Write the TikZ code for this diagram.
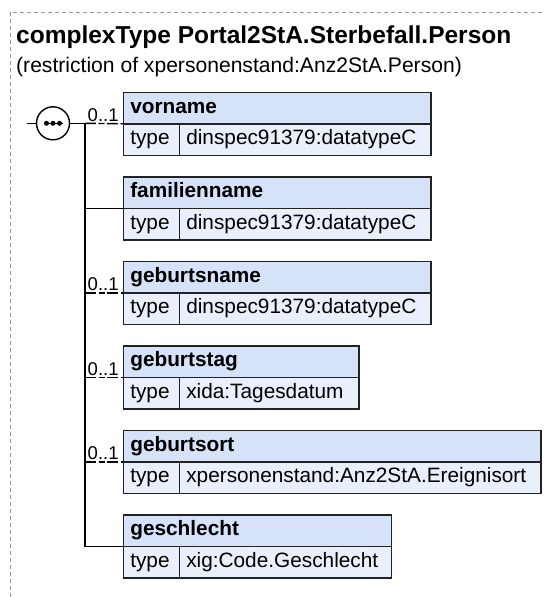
\documentclass[tikz,border=0pt]{standalone}
\usepackage{fontspec}
\setmainfont{Liberation Sans}
\usepackage{tikz}
\usetikzlibrary{positioning}
\definecolor{hdrblue}{RGB}{214,226,247}
\definecolor{rowblue}{RGB}{234,240,251}
\definecolor{boxline}{RGB}{34,34,34}
\definecolor{framegray}{RGB}{150,150,150}

\begin{document}
\begin{tikzpicture}[
  x=1pt, y=-1pt,
  node distance=21.5pt,
  cell/.style={rectangle, draw=boxline, line width=1.4pt, inner xsep=7pt, inner ysep=0pt,
               outer sep=0pt, minimum height=31.5pt, text height=15pt, text depth=4.5pt,
               align=left, anchor=north west, font=\fontsize{20.8}{24}\selectfont},
  hdr/.style={cell, fill=hdrblue, font=\fontsize{20.8}{24}\selectfont\bfseries},
  tcell/.style={cell, fill=rowblue, text width=42pt},
  vcell/.style={cell, fill=rowblue, anchor=west},
  occ/.style={inner sep=0pt, font=\fontsize{18.5}{20}\selectfont},
  conn/.style={line width=1.4pt, black},
  optconn/.style={conn, dash pattern=on 11pt off 2.5pt on 6pt off 2.5pt on 11pt off 2.5pt},
  seqc/.style={circle, draw, line width=1.4pt, fill=white, minimum size=33pt, inner sep=0pt},
  frameline/.style={framegray, line width=1pt, dash pattern=on 4pt off 3pt},
]
\path[use as bounding box, fill=white] (0,0) rectangle (545,597);

%% dashed frame of the complex type
\draw[frameline] (10,597) -- (10,12.3) -- (545,12.3);

\node[anchor=base west, inner sep=0pt, font=\fontsize{24.5}{28}\selectfont\bfseries]
      (title) at (16,43.3) {complexType Portal2StA.Sterbefall.Person};
\node[anchor=base west, inner sep=0pt, font=\fontsize{21.1}{24}\selectfont]
      (restr) at (16,72.7) {(restriction of xpersonenstand:Anz2StA.Person)};

%% ---- elements ----
\node[hdr, text width=293.7pt] (vorname) at (123.3,92.3) {vorname};
\node[tcell] (vorname-t) at (vorname.south west) {type};
\node[vcell, text width=237.7pt] (vorname-v) at (vorname-t.east) {dinspec91379:datatypeC};

\node[hdr, text width=293.7pt, below=of vorname-t.south west, anchor=north west] (familienname) {familienname};
\node[tcell] (familienname-t) at (familienname.south west) {type};
\node[vcell, text width=237.7pt] (familienname-v) at (familienname-t.east) {dinspec91379:datatypeC};

\node[hdr, text width=293.7pt, below=of familienname-t.south west, anchor=north west] (geburtsname) {geburtsname};
\node[tcell] (geburtsname-t) at (geburtsname.south west) {type};
\node[vcell, text width=237.7pt] (geburtsname-v) at (geburtsname-t.east) {dinspec91379:datatypeC};

\node[hdr, text width=221.7pt, below=of geburtsname-t.south west, anchor=north west] (geburtstag) {geburtstag};
\node[tcell] (geburtstag-t) at (geburtstag.south west) {type};
\node[vcell, text width=165.7pt] (geburtstag-v) at (geburtstag-t.east) {xida:Tagesdatum};

\node[hdr, text width=403.7pt, below=of geburtstag-t.south west, anchor=north west] (geburtsort) {geburtsort};
\node[tcell] (geburtsort-t) at (geburtsort.south west) {type};
\node[vcell, text width=347.7pt] (geburtsort-v) at (geburtsort-t.east) {xpersonenstand:Anz2StA.Ereignisort};

\node[hdr, text width=254.4pt, below=of geburtsort-t.south west, anchor=north west] (geschlecht) {geschlecht};
\node[tcell] (geschlecht-t) at (geschlecht.south west) {type};
\node[vcell, text width=198.4pt] (geschlecht-v) at (geschlecht-t.east) {xig:Code.Geschlecht};

%% ---- sequence and connectors ----
\coordinate (in) at (26.5,123.3);
\coordinate (trunk) at (85,123.3);
\node[seqc] (seq) at (53,123.3) {};

\draw[conn] (in) -- (seq.west);
\draw[conn] (seq.east) -- (trunk) -- (trunk |- geschlecht.south west) -- (geschlecht.south west);
\draw[optconn] (trunk) -- (vorname.south west);
\draw[conn] (trunk |- familienname.south west) -- (familienname.south west);
\draw[optconn] (trunk |- geburtsname.south west) -- (geburtsname.south west);
\draw[optconn] (trunk |- geburtstag.south west) -- (geburtstag.south west);
\draw[optconn] (trunk |- geburtsort.south west) -- (geburtsort.south west);

%% dots of the sequence symbol
\draw[line width=1.2pt] ([xshift=-9.5pt]seq.center) -- ([xshift=9.5pt]seq.center);
\fill ([xshift=-6.5pt]seq.center) circle[radius=2.5pt];
\fill (seq.center) circle[radius=2.5pt];
\fill ([xshift=6.5pt]seq.center) circle[radius=2.5pt];

%% occurrences
\node[occ, above left=1.5pt and 4.5pt of vorname.south west] (vorname-occ) {0..1};
\node[occ, above left=1.5pt and 4.5pt of geburtsname.south west] (geburtsname-occ) {0..1};
\node[occ, above left=1.5pt and 4.5pt of geburtstag.south west] (geburtstag-occ) {0..1};
\node[occ, above left=1.5pt and 4.5pt of geburtsort.south west] (geburtsort-occ) {0..1};

\end{tikzpicture}
\end{document}
